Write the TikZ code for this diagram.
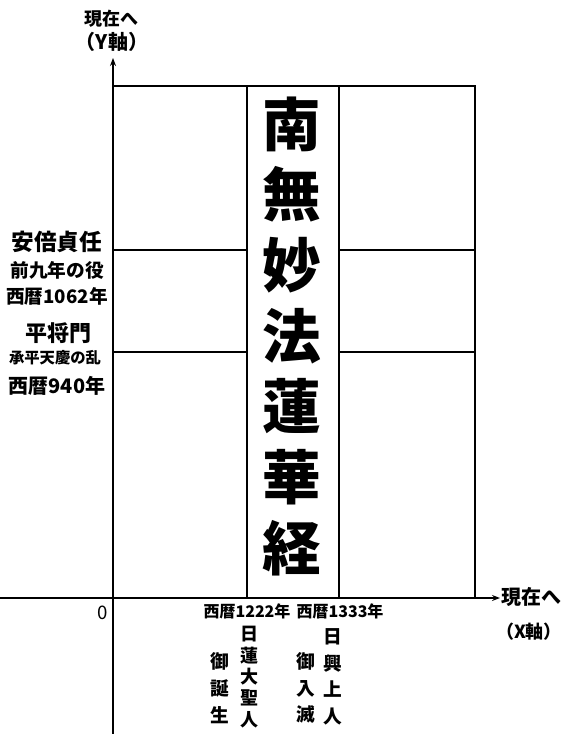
\documentclass[tikz,border=0pt]{standalone}
\usepackage{fontspec}
\newfontfamily\cjk{Noto Sans CJK JP}
\usetikzlibrary{arrows.meta}

\begin{document}
\begin{tikzpicture}[x=0.75pt, y=-0.75pt,
  axis/.style={line width=1.5pt, -{Stealth[length=6pt,width=4.5pt]}},
  frame/.style={line width=1.5pt},
  era/.style={line width=1pt},
  big/.style={font=\cjk\bfseries\fontsize{44}{53}\selectfont, align=center, inner sep=0pt},
  who/.style={font=\cjk\bfseries\fontsize{17}{20}\selectfont, inner sep=0pt},
  sub/.style={font=\cjk\bfseries\fontsize{14}{17}\selectfont, inner sep=0pt},
  tag/.style={font=\cjk\bfseries\fontsize{12}{14}\selectfont, inner sep=0pt},
  col/.style={font=\cjk\bfseries\fontsize{14}{20}\selectfont, align=center, inner sep=0pt}
]
\useasboundingbox (0,0) rectangle (566,734);
% ---------------- axes ----------------
\coordinate (ybot) at (113,734);
\coordinate (ytop) at (113,58);
\coordinate (xleft) at (0,598);
\coordinate (xright) at (500,598);
\draw[axis] (ybot) -- (ytop);
\draw[axis] (xleft) -- (xright);
\node[tag, font=\cjk\bfseries\fontsize{13.5}{16}\selectfont] (ynow) at (111,19) {現在へ};
\node[tag, font=\cjk\bfseries\fontsize{15}{18}\selectfont] (yname) at (112,42) {（Y軸）};
\node[sub, font=\cjk\bfseries\fontsize{15}{18}\selectfont] (xnow) at (531,597) {現在へ};
\node[sub, font=\cjk\bfseries\fontsize{13.5}{16}\selectfont] (xname) at (529,632) {（X軸）};
\node[sub, font=\cjk\fontsize{14}{17}\selectfont] (zero) at (103,613) {0};
% ---------------- frame ----------------
\draw[frame] (113,86) rectangle (475,598);
\draw[frame] (247,86) -- (247,598);
\draw[frame] (339,86) -- (339,598);
\draw[era] (113,250) -- (247,250);
\draw[era] (339,250) -- (475,250);
\draw[era] (113,352) -- (247,352);
\draw[era] (339,352) -- (475,352);
\node[big] (sutra) at (292,336) {南\\無\\妙\\法\\蓮\\華\\経};
% ---------------- left labels ----------------
\node[who] (abe) at (57,242) {安倍貞任};
\node[sub] (zenkunen) at (57,270) {前九年の役};
\node[sub] (y1062) at (57,296) {西暦1062年};
\node[who, font=\cjk\bfseries\fontsize{16.5}{20}\selectfont] (masakado) at (58,333) {平将門};
\node[tag, font=\cjk\bfseries\fontsize{11.5}{14}\selectfont] (johei) at (55,358) {承平天慶の乱};
\node[sub, font=\cjk\bfseries\fontsize{15}{18}\selectfont] (y940) at (57,386) {西暦940年};
% ---------------- bottom labels ----------------
\node[tag] (y1222) at (247,611) {西暦1222年};
\node[tag] (y1333) at (340,611) {西暦1333年};
\node[col, font=\cjk\bfseries\fontsize{13.5}{16}\selectfont] (nichiren) at (249,677) {日\\蓮\\大\\聖\\人};
\node[col] (birth) at (220,688) {御\\誕\\生};
\node[col] (nikko) at (333,677) {日\\興\\上\\人};
\node[col] (death) at (306,688) {御\\入\\滅};
\end{tikzpicture}
\end{document}
